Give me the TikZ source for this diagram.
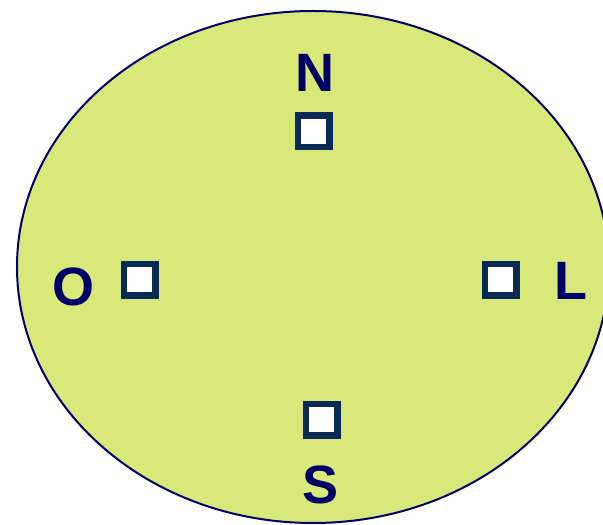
\documentclass[tikz,border=0pt]{standalone}
\usepackage{fontspec}
\setmainfont{Liberation Sans}
\definecolor{fillgreen}{RGB}{216,233,122}
\definecolor{navy}{RGB}{0,0,102}
\definecolor{boxblue}{RGB}{8,42,84}
\tikzset{
  sq/.style={draw=boxblue, fill=white, line width=6.5pt, minimum size=31.5pt, inner sep=0pt, shape=rectangle},
  lbl/.style={text=navy, font=\fontsize{54}{60}\selectfont\bfseries, inner sep=0pt, anchor=base}
}
\begin{document}
\begin{tikzpicture}[x=1pt,y=1pt]
\useasboundingbox (0,0) rectangle (603,525);
\begin{scope}
\clip (0,0) rectangle (603,525);
\draw[navy, fill=fillgreen, line width=2pt] (313,258) ellipse [x radius=296, y radius=256];
\end{scope}
\node[sq] (n) at (313.5,393.5) {};
\node[sq] (o) at (139.5,245) {};
\node[sq] (l) at (500.5,245) {};
\node[sq] (s) at (321.5,105) {};
\node[lbl] (tn) at (315,433.5) {N};
\node[lbl] (to) at (73.5,219) {O};
\node[lbl] (tl) at (571,225) {L};
\node[lbl] (ts) at (321,21) {S};
\end{tikzpicture}
\end{document}
